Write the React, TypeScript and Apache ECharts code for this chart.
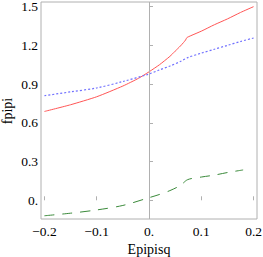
import React, { useEffect, useRef } from "react";
import * as echarts from "echarts";

const xRed = [-0.2, -0.15, -0.1, -0.05, -0.02, 0, 0.02, 0.04, 0.05, 0.06, 0.066, 0.07, 0.0724, 0.08, 0.1, 0.125, 0.15, 0.175, 0.2];
const redValues = [0.688, 0.74, 0.802, 0.885, 0.945, 0.995, 1.05, 1.115, 1.155, 1.195, 1.222, 1.242, 1.26, 1.275, 1.31, 1.36, 1.405, 1.455, 1.5];
const xBlue = [-0.2, -0.15, -0.1, -0.05, 0, 0.02, 0.04, 0.06, 0.074, 0.1, 0.125, 0.15, 0.175, 0.2];
const blueValues = [0.81, 0.84, 0.87, 0.92, 0.978, 1.01, 1.04, 1.075, 1.105, 1.14, 1.17, 1.2, 1.23, 1.257];
const xGreen = [-0.2, -0.15, -0.1, -0.05, 0, 0.02, 0.04, 0.06, 0.074, 0.1, 0.125, 0.15, 0.18];
const greenValues = [-0.12, -0.1, -0.075, -0.04, 0.02, 0.045, 0.075, 0.115, 0.16, 0.18, 0.195, 0.215, 0.235];
const xTicks = [-0.2, -0.1, 0, 0.1, 0.2];
const xTickLabels = ["\u22120.2", "\u22120.1", "0.", "0.1", "0.2"];
const yTicks = [0, 0.3, 0.6, 0.9, 1.2, 1.5];
const yTickLabels = ["0.", "0.3", "0.6", "0.9", "1.2", "1.5"];
const yName = "fpipi";
const xName = "Epipisq";

const pairs = (xs: number[], ys: number[]) => xs.map((x, i) => [x, ys[i]]);
const font = "'Liberation Serif', 'Times New Roman', serif";

export default function App() {
  const ref = useRef<HTMLDivElement>(null);
  useEffect(() => {
    const chart = echarts.init(ref.current!, null, { renderer: "svg" });
    const labelFor = (ticks: number[], labels: string[]) => (v: number) => {
      const i = ticks.findIndex((t) => Math.abs(t - v) < 1e-6);
      return i >= 0 ? labels[i] : "";
    };
    chart.setOption({
      animation: false,
      textStyle: { fontFamily: font },
      grid: {
        left: 41, top: 2, width: 216, height: 217,
        show: true, borderColor: "#b0b0b0", borderWidth: 1,
        containLabel: false, outerBoundsMode: "none",
      },
      graphic: [
        {
          type: "text",
          x: 7,
          y: 111,
          rotation: Math.PI / 2,
          style: { text: yName, fontFamily: font, fontSize: 14, fill: "#000", textAlign: "center", textVerticalAlign: "middle" },
        },
      ],
      xAxis: {
        type: "value",
        min: -0.2065,
        max: 0.2065,
        name: xName,
        nameLocation: "middle",
        nameGap: 23,
        nameTextStyle: { fontFamily: font, fontSize: 14, color: "#000" },
        axisLine: { show: false },
        splitLine: { show: false },
        axisTick: { show: true, inside: true, length: 4, customValues: xTicks, lineStyle: { color: "#b0b0b0" } },
        axisLabel: { customValues: xTicks, formatter: labelFor(xTicks, xTickLabels), fontFamily: font, fontSize: 13.5, color: "#000", margin: 5 },
      },
      yAxis: {
        type: "value",
        min: -0.145,
        max: 1.536,
        axisLine: { show: false },
        splitLine: { show: false },
        axisTick: { show: true, inside: true, length: 4, customValues: yTicks, lineStyle: { color: "#b0b0b0" } },
        axisLabel: { customValues: yTicks, formatter: labelFor(yTicks, yTickLabels), fontFamily: font, fontSize: 13.5, color: "#000", margin: 3 },
      },
      series: [
        {
          type: "line",
          data: pairs(xRed, redValues),
          showSymbol: false,
          smooth: 0.2,
          lineStyle: { color: "#ff5555", width: 1 },
          markLine: {
            silent: true,
            symbol: "none",
            label: { show: false },
            lineStyle: { color: "#b0b0b0", width: 1, type: "solid" },
            data: [{ xAxis: 0 }],
          },
        },
        {
          type: "line",
          data: pairs(xBlue, blueValues),
          showSymbol: false,
          smooth: 0.3,
          lineStyle: { color: "#7070ff", width: 1.2, type: [2, 2] },
        },
        {
          type: "line",
          data: pairs(xGreen, greenValues),
          showSymbol: false,
          smooth: 0.3,
          lineStyle: { color: "#3a8a3a", width: 1, type: [10, 8] },
        },
      ],
    });
    return () => chart.dispose();
  }, []);
  return <div ref={ref} style={{ width: 263, height: 257, position: "absolute", left: 0, top: 0 }} />;
}
